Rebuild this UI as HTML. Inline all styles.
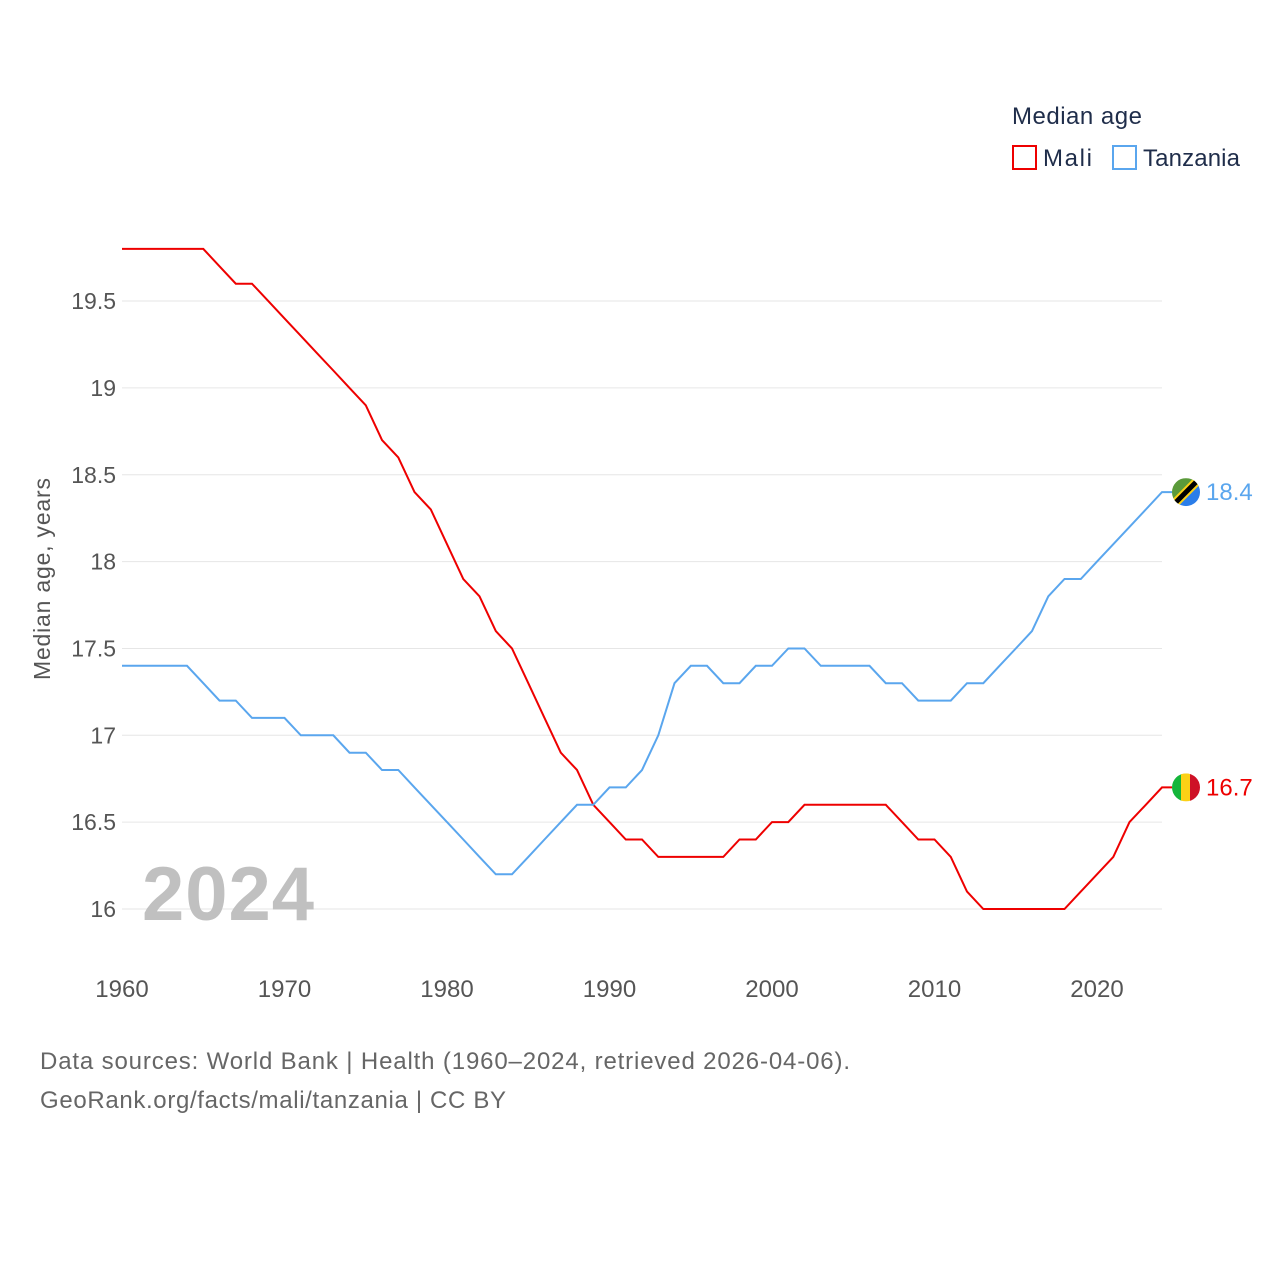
<!DOCTYPE html>
<html><head><meta charset="utf-8"><style>
body{margin:0;background:#fff;font-family:"Liberation Sans",sans-serif;}
svg text{font-family:"Liberation Sans",sans-serif;}
</style></head><body>
<svg id="chart" width="1280" height="1280" xmlns="http://www.w3.org/2000/svg">
<defs>
<clipPath id="cm"><circle cx="0" cy="0" r="14"/></clipPath>
</defs>
<g id="grid"></g>
<g id="yticks"></g>
<g id="xticks"></g>
<text x="142" y="920" font-size="76" font-weight="bold" fill="#c0c0c0" textLength="172">2024</text>
<text transform="translate(50,579) rotate(-90)" text-anchor="middle" font-size="23" fill="#555" textLength="202">Median age, years</text>
<g id="lines"></g>
<g>
<text x="1012" y="124" font-size="24" fill="#1f2d4a" textLength="130">Median age</text>
<rect x="1013" y="146" width="23" height="23" fill="none" stroke="#ee0000" stroke-width="2"/>
<text x="1043" y="166" font-size="24" fill="#1f2d4a" textLength="49">Mali</text>
<rect x="1113" y="146" width="23" height="23" fill="none" stroke="#5aa6ee" stroke-width="2"/>
<text x="1143" y="166" font-size="24" fill="#1f2d4a" textLength="97">Tanzania</text>
</g>
<text x="40" y="1069" font-size="24" fill="#666" textLength="810">Data sources: World Bank | Health (1960–2024, retrieved 2026-04-06).</text>
<text x="40" y="1108" font-size="24" fill="#666" textLength="466">GeoRank.org/facts/mali/tanzania | CC BY</text>
</svg>
<script>
const years=[];for(let y=1960;y<=2024;y++)years.push(y);
const mali=[19.8,19.8,19.8,19.8,19.8,19.8,19.7,19.6,19.6,19.5,19.4,19.3,19.2,19.1,19.0,18.9,18.7,18.6,18.4,18.3,18.1,17.9,17.8,17.6,17.5,17.3,17.1,16.9,16.8,16.6,16.5,16.4,16.4,16.3,16.3,16.3,16.3,16.3,16.4,16.4,16.5,16.5,16.6,16.6,16.6,16.6,16.6,16.6,16.5,16.4,16.4,16.3,16.1,16.0,16.0,16.0,16.0,16.0,16.0,16.1,16.2,16.3,16.5,16.6,16.7];
const tanzania=[17.4,17.4,17.4,17.4,17.4,17.3,17.2,17.2,17.1,17.1,17.1,17.0,17.0,17.0,16.9,16.9,16.8,16.8,16.7,16.6,16.5,16.4,16.3,16.2,16.2,16.3,16.4,16.5,16.6,16.6,16.7,16.7,16.8,17.0,17.3,17.4,17.4,17.3,17.3,17.4,17.4,17.5,17.5,17.4,17.4,17.4,17.4,17.3,17.3,17.2,17.2,17.2,17.3,17.3,17.4,17.5,17.6,17.8,17.9,17.9,18.0,18.1,18.2,18.3,18.4];
const yTicks=[16,16.5,17,17.5,18,18.5,19,19.5];
const yTickLabels=["16","16.5","17","17.5","18","18.5","19","19.5"];
const xTicks=[1960,1970,1980,1990,2000,2010,2020];
const NS="http://www.w3.org/2000/svg";
const X=y=>122+(y-1960)*16.25;
const Y=v=>909-(v-16)*173.7;
function mk(t,a,p){const e=document.createElementNS(NS,t);for(const k in a)e.setAttribute(k,a[k]);p.appendChild(e);return e;}
const grid=document.getElementById('grid'),yt=document.getElementById('yticks'),xt=document.getElementById('xticks'),lines=document.getElementById('lines');
yTicks.forEach((v,i)=>{
const l=mk('line',{x1:122,x2:1162,y1:Y(v),y2:Y(v),stroke:'#e6e6e6','stroke-width':1},grid);


const t=mk('text',{x:116,y:Y(v)+8,'text-anchor':'end','font-size':23,fill:'#555'},yt);
t.textContent=yTickLabels[i];


});
xTicks.forEach(v=>{
const t=mk('text',{x:X(v),y:997,'text-anchor':'middle','font-size':24,fill:'#555'},xt);
t.textContent=v;


});
function series(vals,color,name,flag){
const pts=vals.map((v,i)=>(i?'L':'M')+X(years[i]).toFixed(1)+','+Y(v).toFixed(1)).join('');
const last=vals[vals.length-1],lx=X(years[years.length-1]),ly=Y(last);
const p=mk('path',{d:pts+'L'+(lx+10)+','+ly.toFixed(1),fill:'none',stroke:color,'stroke-width':2},lines);


const g=mk('g',{transform:'translate('+(lx+24)+','+ly+')','clip-path':'url(#cm)'},lines);


flag(g);
const t=mk('text',{x:lx+44,y:ly+8,'font-size':24,fill:color},lines);
t.textContent=last.toFixed(1);


}
series(mali,'#ee0000','mali',g=>{
mk('rect',{x:-14,y:-14,width:10,height:28,fill:'#14b53a'},g);
mk('rect',{x:-5,y:-14,width:10,height:28,fill:'#fcd116'},g);
mk('rect',{x:4,y:-14,width:10,height:28,fill:'#ce1126'},g);
});
series(tanzania,'#5aa6ee','tanzania',g=>{
mk('polygon',{points:'-14,-14 14,-14 -14,14',fill:'#5a9a3a'},g);
mk('polygon',{points:'14,-14 14,14 -14,14',fill:'#2b7de9'},g);
mk('line',{x1:-14,y1:14,x2:14,y2:-14,stroke:'#fcd116','stroke-width':9},g);
mk('line',{x1:-14,y1:14,x2:14,y2:-14,stroke:'#000','stroke-width':5},g);
});
</script>
</body></html>
